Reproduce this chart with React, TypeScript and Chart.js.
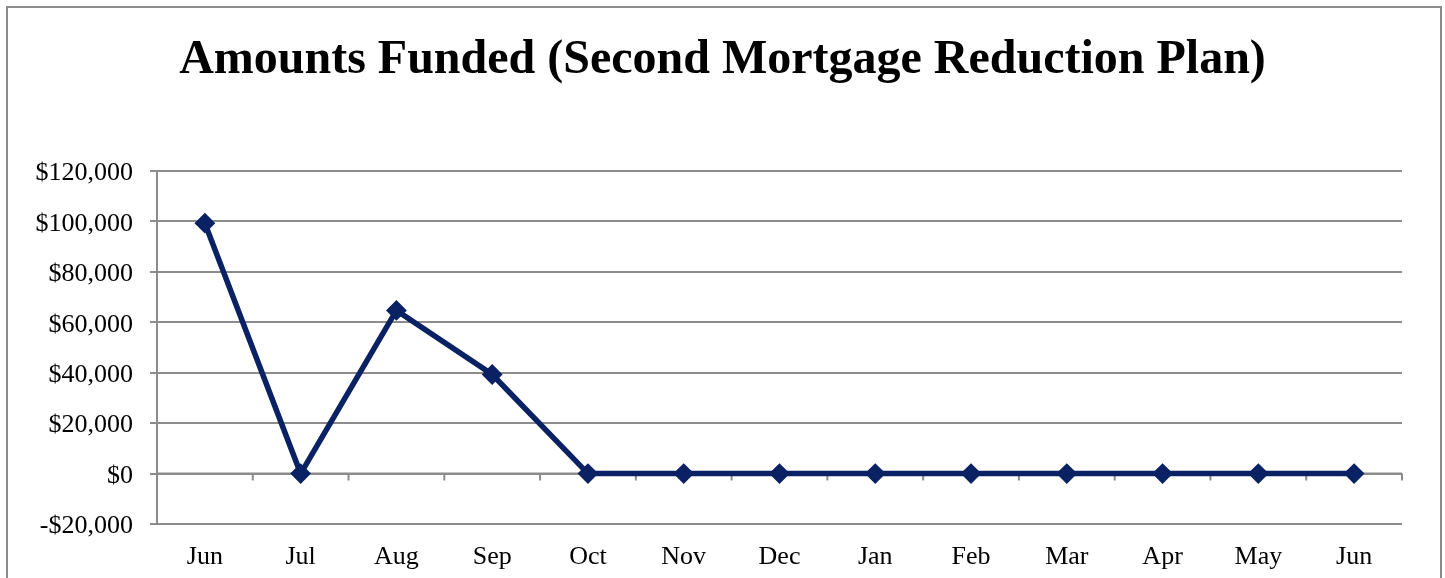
import React, { useEffect, useRef } from "react";
import { Chart, registerables } from "chart.js";

Chart.register(...registerables);

const titleText = "Amounts Funded (Second Mortgage Reduction Plan)";
const categories = ["Jun", "Jul", "Aug", "Sep", "Oct", "Nov", "Dec", "Jan", "Feb", "Mar", "Apr", "May", "Jun"];
const amountsFunded = [99300, 0, 64700, 39300, 0, 0, 0, 0, 0, 0, 0, 0, 0];
const yMin = -20000;
const yMax = 120000;
const yStep = 20000;

const SERIF = "'Liberation Serif', 'Times New Roman', Times, serif";
const GRID = "#8c8c8c";
const NAVY = "#0a2264";
const W = 1445;
const H = 578;

function fmtMoney(v: number): string {
  const s = "$" + Math.abs(v).toLocaleString("en-US");
  return v < 0 ? "-" + s : s;
}

const zeroLinePlugin = {
  id: "zeroLine",
  beforeDatasetsDraw(chart: any) {
    const { ctx, chartArea } = chart;
    const x = chart.scales.x;
    const y = chart.scales.y;
    const y0 = y.getPixelForValue(0);
    ctx.save();
    ctx.strokeStyle = GRID;
    ctx.lineWidth = 2;
    ctx.beginPath();
    ctx.moveTo(chartArea.left, y0);
    ctx.lineTo(chartArea.right, y0);
    const n = categories.length;
    for (let i = 1; i <= n; i++) {
      const xb = i === n ? chartArea.right : (x.getPixelForValue(i - 1) + x.getPixelForValue(i)) / 2;
      ctx.moveTo(xb, y0);
      ctx.lineTo(xb, y0 + 7);
    }
    ctx.stroke();
    ctx.restore();
  },
};

export default function App() {
  const canvasRef = useRef<HTMLCanvasElement | null>(null);

  useEffect(() => {
    const canvas = canvasRef.current;
    if (!canvas) return;
    const chart = new Chart(canvas, {
      type: "line",
      data: {
        labels: categories,
        datasets: [
          {
            label: "Amounts Funded",
            data: amountsFunded,
            borderColor: NAVY,
            backgroundColor: NAVY,
            borderWidth: 5.5,
            pointStyle: "rectRot",
            pointRadius: 9,
            pointBorderWidth: 2,
            pointBackgroundColor: NAVY,
            pointBorderColor: NAVY,
            tension: 0,
          },
        ],
      },
      options: {
        responsive: false,
        animation: false,
        devicePixelRatio: 1,
        layout: { padding: { left: 0, right: 0, top: 0, bottom: 0 } },
        plugins: {
          legend: { display: false },
          tooltip: { enabled: false },
          title: {
            display: true,
            text: titleText,
            color: "#000",
            font: { family: SERIF, size: 48, weight: "bold", lineHeight: 1.2 },
            padding: { top: 32, bottom: 81.4 },
          },
        },
        scales: {
          x: {
            type: "category",
            offset: true,
            grid: { display: false },
            border: { display: false },
            ticks: {
              color: "#000",
              font: { family: SERIF, size: 26 },
              padding: 10,
              maxRotation: 0,
              autoSkip: false,
            },
            afterFit(scale: any) {
              scale.height = H - 524;
            },
          },
          y: {
            min: yMin,
            max: yMax,
            grid: { color: GRID, lineWidth: 2, tickLength: 7, drawTicks: true },
            border: { display: true, color: GRID, width: 2 },
            ticks: {
              stepSize: yStep,
              color: "#000",
              font: { family: SERIF, size: 26, lineHeight: "5px" },
              padding: 17,
              callback: (v: any) => ["", fmtMoney(Number(v))],
            },
            afterFit(scale: any) {
              scale.width = 157;
            },
          },
          ySpacer: {
            position: "right",
            min: yMin,
            max: yMax,
            grid: { display: false },
            border: { display: false },
            ticks: { display: false },
            afterFit(scale: any) {
              scale.width = W - 1402;
            },
          },
        },
      },
      plugins: [zeroLinePlugin],
    });
    return () => chart.destroy();
  }, []);

  return (
    <div style={{ position: "absolute", left: 0, top: 0, width: W, height: H, overflow: "hidden", background: "#fff" }}>
      <canvas ref={canvasRef} width={W} height={H} style={{ position: "absolute", left: 0, top: 0, width: W, height: H }} />
      <div
        style={{
          position: "absolute",
          left: 6,
          top: 6,
          width: 1432,
          height: H - 8,
          borderTop: `2px solid ${GRID}`,
          borderLeft: `2px solid ${GRID}`,
          borderRight: `2px solid ${GRID}`,
          pointerEvents: "none",
        }}
      />
    </div>
  );
}
